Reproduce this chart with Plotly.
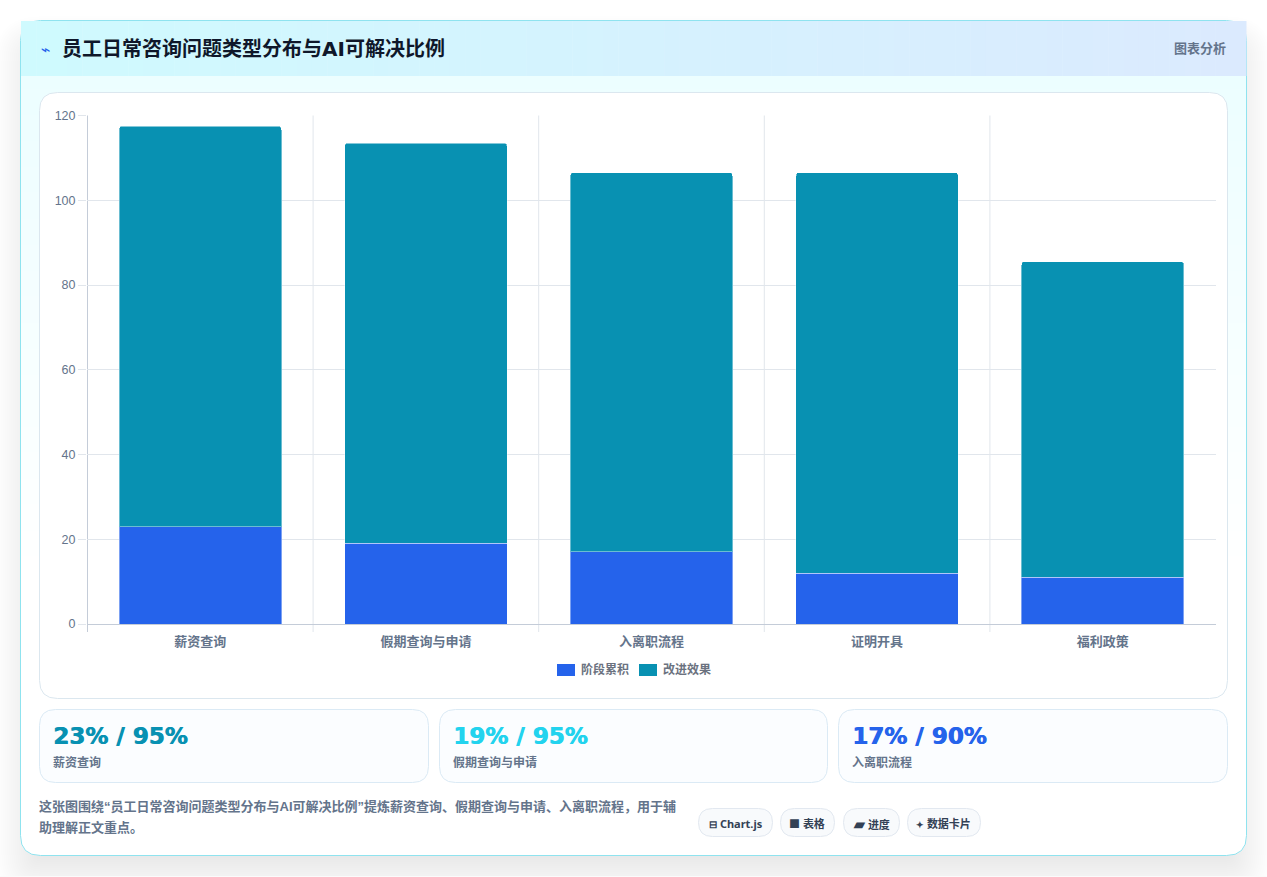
import plotly.graph_objects as go

categories = ["薪资查询", "假期查询与申请", "入离职流程", "证明开具", "福利政策"]
stage_values = [23, 19, 17, 12, 11]
effect_values = [95, 95, 90, 95, 75]
series_names = ["阶段累积", "改进效果"]
y_ticks = [0, 20, 40, 60, 80, 100, 120]
stat_values = ["23% / 95%", "19% / 95%", "17% / 90%"]
stat_names = ["薪资查询", "假期查询与申请", "入离职流程"]
stat_colors = ["#0891b2", "#22d3ee", "#2563eb"]
pill_icons = ["⊟", "■", "▰", "✦"]
pill_icon_sizes = [10, 11, 14, 9]
pill_labels = ["Chart.js", "表格", "进度", "数据卡片"]
title_text = "员工日常咨询问题类型分布与AI可解决比例"
side_text = "图表分析"
note_lines = ["这张图围绕“员工日常咨询问题类型分布与AI可解决比例”提炼薪资查询、假期查询与申请、入离职流程，用于辅",
              "助理解正文重点。"]

W, H = 1267, 877
CJK = "Liberation Sans, Noto Sans CJK SC, sans-serif"
WIDE = "DejaVu Sans, Noto Sans CJK SC, sans-serif"
BLUE, TEAL = "#2563eb", "#0891b2"
BAR_WIDTH = 0.72


def px(x):
    return x / W


def py(y):
    return 1 - y / H


def rr(x0, y0, x1, y1, r):
    """Rounded rectangle path in paper coordinates."""
    a, b, c, d = px(x0), py(y0), px(x1), py(y1)
    rx, ry = r / W, r / H
    return (f"M{a + rx},{b} L{c - rx},{b} Q{c},{b} {c},{b - ry} L{c},{d + ry} Q{c},{d} {c - rx},{d} "
            f"L{a + rx},{d} Q{a},{d} {a},{d + ry} L{a},{b - ry} Q{a},{b} {a + rx},{b} Z")


def lerp(c0, c1, t):
    return "rgb(" + ",".join(f"{c0[i] + (c1[i] - c0[i]) * t:.0f}" for i in range(3)) + ")"


shapes = []


def path(d, fill, line=None, width=1, opacity=1.0, layer="below"):
    shapes.append(dict(type="path", path=d, xref="paper", yref="paper", fillcolor=fill,
                       line=dict(color=line or "rgba(0,0,0,0)", width=width if line else 0),
                       opacity=opacity, layer=layer))


def rect(x0, y0, x1, y1, fill):
    shapes.append(dict(type="rect", xref="paper", yref="paper", x0=px(x0), x1=px(x1), y0=py(y0), y1=py(y1),
                       fillcolor=fill, line=dict(width=0), layer="below"))


# soft drop shadow behind the card, built from stacked translucent layers
layers = list(range(-25, 26, 2))
for s in layers:
    path(rr(20 - s, 41 - s, 1247 + s, 875 + s, max(20 + s, 6)), "rgb(15,23,42)", opacity=0.085 / len(layers))
rect(0, 876, W, H + 1, "#fbfbfb")

# card body: vertical fade from pale cyan to white
path(rr(20.5, 20.5, 1246.5, 855.5, 20), "#ffffff")
steps = 60
for i in range(steps - 3):
    y0 = 76 + (855 - 76) * i / steps
    y1 = 76 + (855 - 76) * (i + 1) / steps + 0.5
    t = min(1.0, i / (steps * 0.62))
    rect(21, y0, 1246, y1, lerp((236, 254, 255), (255, 255, 255), t))
path(rr(21, 780, 1246, 855, 19), "#ffffff")
path(rr(20.5, 20.5, 1246.5, 855.5, 20), "rgba(0,0,0,0)", "#8fe3ef", 1)

# header band: horizontal fade
steps = 80
for i in range(steps):
    x0 = 21 + (1246 - 21) * i / steps
    x1 = 21 + (1246 - 21) * (i + 1) / steps + 0.5
    rect(x0, 21, x1, 76, lerp((207, 250, 254), (219, 234, 254), i / (steps - 1)))

# chart panel
path(rr(39.5, 92.5, 1227.5, 698.5, 18), "#ffffff", "#dbe7ef", 1)

# stat cards
card_x = [(39.5, 428.5), (439.5, 827.5), (838.5, 1227.5)]
for x0, x1 in card_x:
    path(rr(x0, 709.5, x1, 782.5, 16), "#fbfdff", "#dbeaf5", 1)

# pills
pill_x = [(698.5, 772.5), (780.5, 834.5), (843.5, 899.5), (907.5, 980.5)]
for x0, x1 in pill_x:
    path(rr(x0, 808.5, x1, 836.5, 14), "#f8fafc", "#e2e8f0", 1)

# legend swatches
legend_swatches = [(557, 575, BLUE), (639, 657, TEAL)]
for x0, x1, c in legend_swatches:
    rect(x0, 664, x1, 676, c)

annotations = []


def text(x, y, s, size, color, anchor="left", family=CJK, shadow=None):
    # annotation box padding is 2px on each side
    shift = {"left": -2, "right": 2, "center": 0}[anchor]
    font = dict(size=size, color=color, family=family)
    if shadow:
        font["shadow"] = shadow
    annotations.append(dict(xref="paper", yref="paper", x=px(x + shift), y=py(y), text=s, showarrow=False,
                            xanchor=anchor, yanchor="middle", align=anchor, font=font))


text(41, 50, "⌁", 16, "#2563eb", family=WIDE)
text(62, 49.5, f"<b>{title_text}</b>", 20, "#0f172a", family=WIDE)
text(1226, 48.5, f"<b>{side_text}</b>", 13, "#64748b", anchor="right")

for (x0, _), v, n, c in zip(card_x, stat_values, stat_names, stat_colors):
    text(x0 + 13.5, 736, f"<b>{v}</b>", 23, c, family=WIDE, shadow=f"0.7px 0 0 {c}")
    text(x0 + 13.5, 762.5, f"<b>{n}</b>", 12, "#64748b")

text(39, 806.5, f"<b>{note_lines[0]}</b>", 13, "#64748b")
text(39, 827.5, f"<b>{note_lines[1]}</b>", 13, "#64748b")

for (x0, x1), icon, size, s in zip(pill_x, pill_icons, pill_icon_sizes, pill_labels):
    label = f'<span style="font-size:{size}px"><b>{icon}</b></span> <b>{s}</b>'
    text((x0 + x1) / 2, 823, label, 11, "#334155", anchor="center", family="Noto Sans, Noto Sans CJK SC, sans-serif")

for (_, x1, _), name in zip(legend_swatches, series_names):
    text(x1 + 6, 669, f"<b>{name}</b>", 12, "#6b7280")

fig = go.Figure()
for name, vals, color in zip(series_names, [stage_values, effect_values], [BLUE, TEAL]):
    fig.add_bar(x=categories, y=vals, name=name, width=BAR_WIDTH,
                marker=dict(color=color, line=dict(width=1, color="rgba(255,255,255,0.4)")))

fig.update_layout(
    width=W, height=H, autosize=False,
    margin=dict(l=0, r=0, t=0, b=0, autoexpand=False),
    paper_bgcolor="#ffffff", plot_bgcolor="rgba(0,0,0,0)",
    barmode="stack", barcornerradius=6,
    shapes=shapes, annotations=annotations,
    showlegend=False,
    xaxis=dict(domain=[px(87), px(1215.5)], anchor="y", showgrid=False, ticks="", showline=False,
               tickfont=dict(size=13, color="#64748b", family="Noto Sans CJK SC, sans-serif", weight=700),
               ticklabelstandoff=8, fixedrange=True),
    yaxis=dict(domain=[py(624), py(115.5)], range=[0, 120], tickvals=y_ticks, gridcolor="#e1e6ec", gridwidth=1,
               zeroline=True, zerolinecolor="#c4ccd8", zerolinewidth=1, showline=False,
               ticks="outside", ticklen=8, tickcolor="#e1e6ec",
               tickfont=dict(size=12.5, color="#64748b", family="Liberation Sans, Arial, sans-serif"),
               fixedrange=True),
)

# category separators between the bars
for i in range(len(categories)):
    fig.add_shape(type="line", xref="x", yref="paper", x0=i - 0.5, x1=i - 0.5, y0=py(115.5), y1=py(632),
                  line=dict(color="#e1e6ec" if i else "#c4ccd8", width=1), layer="below")

# pale inner top border on each stack
for i, (a, b) in enumerate(zip(stage_values, effect_values)):
    half = BAR_WIDTH / 2 + 0.004
    fig.add_shape(type="line", xref="x", yref="y", x0=i - half, x1=i + half, y0=a + b, y1=a + b,
                  line=dict(color="#ffffff", width=5), layer="above")

fig.write_html("out.html", config=dict(displayModeBar=False))
